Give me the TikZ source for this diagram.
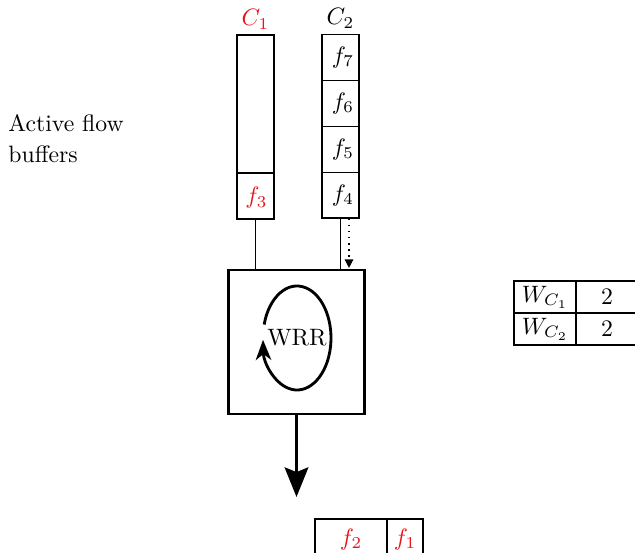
\documentclass[tikz,border=0pt]{standalone}
\usepackage{amsmath}
\usepackage{xcolor}
\usetikzlibrary{arrows.meta,positioning,calc}
\definecolor{flowred}{HTML}{E8141C}

\begin{document}
\begin{tikzpicture}[
    x=0.4219pt, y=0.4219pt,
    font=\normalsize,
    node distance=0pt,
    buf/.style={draw, line width=0.8pt, minimum width=15.6pt, inner sep=0pt, outer sep=0pt},
    slot/.style={buf, minimum height=19.4pt},
    sched/.style={draw, line width=1.2pt, minimum width=57.4pt, minimum height=60.8pt, outer sep=0pt},
    cell/.style={draw, line width=0.6pt, minimum height=13.5pt, inner sep=0pt, outer sep=0pt},
    link/.style={line width=0.6pt},
    hint/.style={-{Triangle[length=3.6pt,width=3.6pt]}, line width=0.6pt, dotted},
    spin/.style={-{Stealth[length=8.5pt,width=6.5pt,inset=2.5pt]}, line width=1.2pt},
    outflow/.style={-{Stealth[length=12.5pt,width=10pt,inset=2pt]}, line width=1.2pt},
  ]
  \clip (0,0) rectangle (635,-553);

  % the two class buffers
  \node[buf, minimum height=77.6pt] (buf1) at (255.5,-127) {};
  \draw[line width=0.8pt] (buf1.west |- 0,-173) -- (buf1.east |- 0,-173);
  \node[text=flowred] (f3) at (256.5,-198) {$f_3$};
  \node[text=flowred, above=-1pt of buf1] (c1) {$C_1$};

  \node[slot] (f7) at (340.5,-57.5) {\hspace*{2pt}$f_7$};
  \node[slot, below=of f7] (f6) {\hspace*{2pt}$f_6$};
  \node[slot, below=of f6] (f5) {\hspace*{2pt}$f_5$};
  \node[slot, below=of f5] (f4) {\hspace*{2pt}$f_4$};
  \node[above=-1pt of f7] (c2) {$C_2$};

  \node[anchor=north west, align=left, inner sep=0pt] (lbl) at (8,-114) {Active flow\\[1pt]buffers};

  % scheduler
  \node[sched] (wrr) at (296.5,-342) {};
  \node (wrrtxt) at (297,-338) {WRR};
  \draw[spin] ($(wrrtxt)+(165:34 and 52)$) arc (165:-178:34 and 52);

  \draw[link] (buf1.south) -- (buf1.south |- wrr.north);
  \draw[link] (f4.south) -- (f4.south |- wrr.north);
  \draw[hint] ($(f4.south)+(8.5,0)$) -- ($(f4.south |- wrr.north)+(8.5,2)$);

  \coordinate (sink) at (296.5,-497);
  \draw[outflow] (wrr.south -| sink) -- (sink);

  % weights
  \node[cell, minimum width=26.2pt, anchor=north west] (w1) at (514,-281) {$W_{C_1}$};
  \node[cell, minimum width=26.2pt, below=of w1] (w2) {$W_{C_2}$};
  \node[cell, minimum width=26.2pt, right=of w1] (v1) {2};
  \node[cell, minimum width=26.2pt, right=of w2] (v2) {2};

  % departed packets
  \node[cell, minimum width=30.4pt, minimum height=17.3pt, anchor=north west, text=flowred] (f2) at (315,-519) {$f_2$};
  \node[cell, minimum width=15.2pt, minimum height=17.3pt, right=of f2, text=flowred] (f1) {$f_1$};
\end{tikzpicture}
\end{document}
